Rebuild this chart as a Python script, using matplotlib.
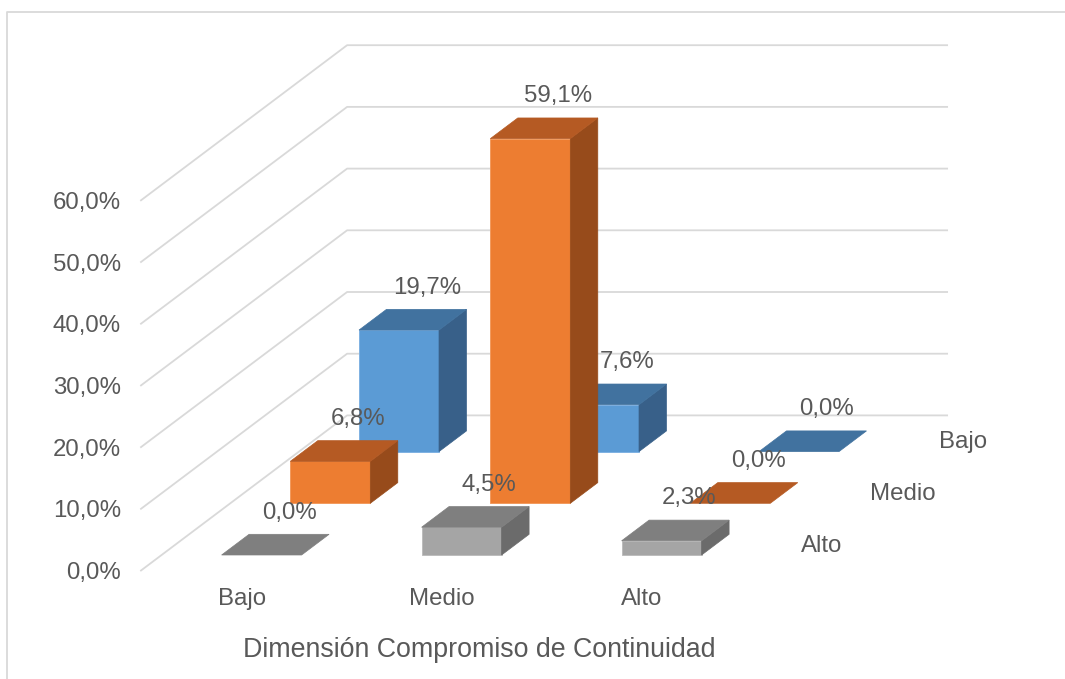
import matplotlib
matplotlib.use("Agg")
import matplotlib.pyplot as plt
from matplotlib.patches import Polygon
from matplotlib.lines import Line2D

# ---- data -------------------------------------------------------------
categories = ["Bajo", "Medio", "Alto"]          # x axis
series_names = ["Bajo", "Medio", "Alto"]        # depth axis (back -> front)
values_bajo = [19.7, 7.6, 0.0]
values_medio = [6.8, 59.1, 0.0]
values_alto = [0.0, 4.5, 2.3]
z_ticks = [0, 10, 20, 30, 40, 50, 60]
axis_title = "Dimensión Compromiso de Continuidad"

# ---- styling ----------------------------------------------------------
plt.rcParams["font.family"] = ["Liberation Sans", "DejaVu Sans"]
TEXT = "#595959"
GRID = "#D9D9D9"
FS = 17.3
colors = {
    "Bajo": ("#5B9BD5", "#41729F", "#386089"),   # front, top, side
    "Medio": ("#ED7D31", "#B55A23", "#974B1B"),
    "Alto": ("#A5A5A5", "#7F7F7F", "#6B6B6B"),
}
edge = {"Bajo": "#7FB2E2", "Medio": "#F29A5E", "Alto": "#BDBDBD"}

W, H, DPI = 1065, 679, 100
fig = plt.figure(figsize=(W / DPI, H / DPI), dpi=DPI)
ax = fig.add_axes([0, 0, 1, 1])
ax.axis("off")

# axes in value space: x in category units, y in percent
PX_CAT = 200.0      # pixels per category
PX_PCT = 6.17       # pixels per percent
X0, Y0 = 141.0, 570.5
ax.set_xlim(-X0 / PX_CAT, (W - X0) / PX_CAT)
ax.set_ylim((Y0 - H) / PX_PCT, Y0 / PX_PCT)

# oblique depth projection: one series row shifts right and up
DX = 68.7 / PX_CAT
DZ = 51.7 / PX_PCT
n_cat = len(categories)
n_ser = len(series_names)


def proj(x, d, z):
    return (x + d * DX, z + d * DZ)


def pt(dx_px, dy_px):
    return (dx_px * 72 / DPI, dy_px * 72 / DPI)


# ---- walls / gridlines ------------------------------------------------
for t in z_ticks:
    a = proj(0, 0, t)
    b = proj(0, n_ser, t)
    c = proj(n_cat, n_ser, t)
    ax.add_line(Line2D([a[0], b[0], c[0]], [a[1], b[1], c[1]],
                       color=GRID, lw=1.3, zorder=1))
    ax.annotate(f"{t:.1f}%".replace(".", ","), xy=a, xytext=pt(-20, -8.5),
                textcoords="offset points", ha="right", va="baseline",
                fontsize=FS, color=TEXT)

# ---- bars -------------------------------------------------------------
data = {"Bajo": values_bajo, "Medio": values_medio, "Alto": values_alto}
depth_row = {name: n_ser - 1 - i for i, name in enumerate(series_names)}

z = 2
labels = []
for name in series_names:                       # back row first
    r = depth_row[name]
    fc, tc, sc = colors[name]
    for ci, v in enumerate(data[name]):
        x0, x1 = ci + 0.3, ci + 0.7
        d0, d1 = r + 0.3, r + 0.7
        front = [proj(x0, d0, 0), proj(x1, d0, 0), proj(x1, d0, v), proj(x0, d0, v)]
        top = [proj(x0, d0, v), proj(x1, d0, v), proj(x1, d1, v), proj(x0, d1, v)]
        side = [proj(x1, d0, 0), proj(x1, d1, 0), proj(x1, d1, v), proj(x1, d0, v)]
        if v > 0:
            ax.add_patch(Polygon(front, closed=True, fc=fc, ec=edge[name],
                                 lw=0.7, zorder=z))
            ax.add_patch(Polygon(side, closed=True, fc=sc, ec=sc, lw=0.5,
                                 zorder=z))
        ax.add_patch(Polygon(top, closed=True, fc=tc, ec=tc, lw=0.5, zorder=z))
        z += 1
        labels.append((proj(ci + 0.5, r + 0.5, v), v))

for xy, v in labels:
    ax.annotate(f"{v:.1f}%".replace(".", ","), xy=xy, xytext=pt(14, 26),
                textcoords="offset points", ha="center", va="baseline",
                fontsize=FS, color=TEXT, zorder=50)

# ---- category labels (front) -----------------------------------------
for ci, cat in enumerate(categories):
    ax.annotate(cat, xy=proj(ci + 0.5, 0, 0), xytext=pt(1, -34.5),
                textcoords="offset points", ha="center", va="baseline",
                fontsize=FS, color=TEXT)

# ---- series labels (right side) ---------------------------------------
for name in series_names:
    r = depth_row[name]
    ax.annotate(name, xy=proj(n_cat, r + 0.5, 0), xytext=pt(26, -7),
                textcoords="offset points", ha="left", va="baseline",
                fontsize=FS, color=TEXT)

# ---- axis title -------------------------------------------------------
ax.annotate(axis_title, xy=proj(n_cat / 2, 0, 0), xytext=pt(38, -86.5),
            textcoords="offset points", ha="center", va="baseline",
            fontsize=19.3, color=TEXT)

# ---- chart border -----------------------------------------------------
bx, by = 7 / W, 1 - 12 / H
fig.add_artist(Line2D([bx, bx, 1.0], [0.0, by, by], transform=fig.transFigure,
                      color=GRID, lw=1.3))

fig.savefig("out.png", dpi=DPI)
